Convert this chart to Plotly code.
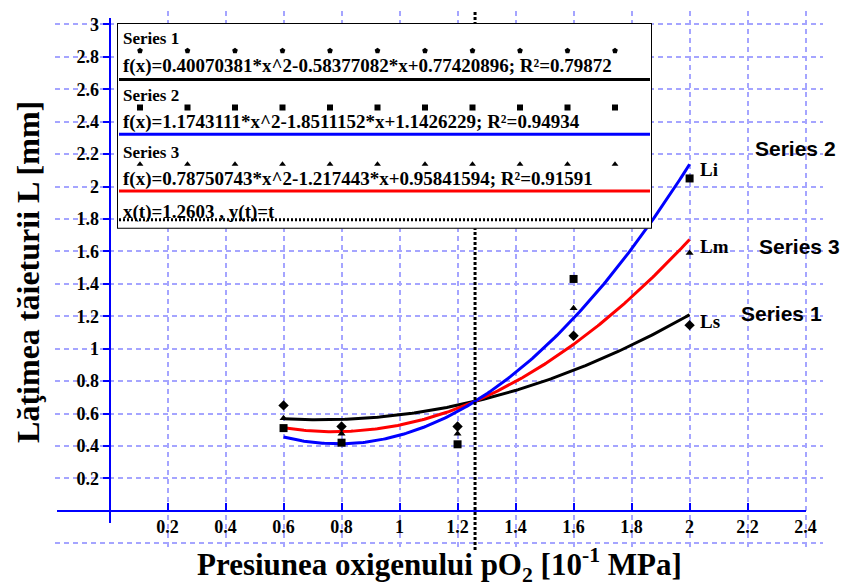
import numpy as np
import plotly.graph_objects as go

# Measured kerf width L [mm] vs. oxygen pressure pO2 [10^-1 MPa]
pressure = [0.6, 0.8, 1.2, 1.6, 2.0]
width_ls = [0.65, 0.52, 0.52, 1.08, 1.145]    # Series 1 (Ls)
width_li = [0.51, 0.42, 0.41, 1.43, 2.05]     # Series 2 (Li)
width_lm = [0.57, 0.475, 0.475, 1.25, 1.59]   # Series 3 (Lm)

# Quadratic regressions a*x^2 + b*x + c and their R^2
fit_s1 = [0.40070381, -0.58377082, 0.77420896]
fit_s2 = [1.1743111, -1.8511152, 1.1426229]
fit_s3 = [0.78750743, -1.217443, 0.95841594]
r2_values = [0.79872, 0.94934, 0.91591]
x_vertical = 1.2603

x_tick_vals = [0.2, 0.4, 0.6, 0.8, 1.0, 1.2, 1.4, 1.6, 1.8, 2.0, 2.2, 2.4]
x_tick_text = ["0.2", "0.4", "0.6", "0.8", "1", "1.2", "1.4", "1.6", "1.8", "2", "2.2", "2.4"]
y_tick_vals = [0.2, 0.4, 0.6, 0.8, 1.0, 1.2, 1.4, 1.6, 1.8, 2.0, 2.2, 2.4, 2.6, 2.8, 3.0]
y_tick_text = ["0.2", "0.4", "0.6", "0.8", "1", "1.2", "1.4", "1.6", "1.8", "2",
               "2.2", "2.4", "2.6", "2.8", "3"]
y_grid_vals = [-0.2] + y_tick_vals

X_RANGE = [-0.188, 2.460]
Y_RANGE = [-0.242, 3.083]
X_LINE = [-0.181, 2.402]   # extent of the drawn x axis line
Y_LINE = [-0.077, 3.04]    # extent of the drawn y axis line

SERIF = "Liberation Serif"
SANS = "Liberation Sans"
GRID = "rgb(165,165,255)"
AXIS_BLUE = "#0000ff"


def frac(v, rng):
    return (v - rng[0]) / (rng[1] - rng[0])


def poly(coef, x):
    return coef[0] * x ** 2 + coef[1] * x + coef[2]


def fit_label(coef, r2):
    return f"f(x)={coef[0]}*x^2{coef[1]:+}*x{coef[2]:+}; R²={r2}"


fig = go.Figure()

# fitted curves over the measured pressure interval
xs = np.linspace(pressure[0], pressure[-1], 200)
for coef, color in [(fit_s1, "black"), (fit_s3, "red"), (fit_s2, "blue")]:
    fig.add_trace(go.Scatter(x=xs, y=poly(coef, xs), mode="lines",
                             line=dict(color=color, width=3), showlegend=False,
                             hoverinfo="skip"))

# measured points
for vals, sym, size in [(width_ls, "diamond", 8), (width_li, "square", 8),
                        (width_lm, "triangle-up", 7)]:
    fig.add_trace(go.Scatter(x=pressure, y=vals, mode="markers",
                             marker=dict(symbol=sym, size=size, color="black"),
                             showlegend=False))

# vertical line x(t)=1.2603, y(t)=t
fig.add_trace(go.Scatter(x=[x_vertical, x_vertical], y=Y_RANGE, mode="lines",
                         line=dict(color="black", width=3, dash="3px,2px"),
                         showlegend=False, hoverinfo="skip"))

# axes drawn through the origin (line, ticks, labels)
fig.add_trace(go.Scatter(x=[None], y=[None], xaxis="x2", yaxis="y2", showlegend=False))

# legend panel
LW, LH = 535, 207
fig.add_trace(go.Scatter(x=[0, LW, LW, 0, 0], y=[0, 0, LH, LH, 0], xaxis="x3", yaxis="y3",
                         mode="lines", fill="toself", fillcolor="white",
                         line=dict(color="black", width=2), showlegend=False,
                         hoverinfo="skip"))
row_lines = [(57, "black", "solid"), (112, "blue", "solid"), (169, "red", "solid"),
             (198, "black", "2px,2px")]
for yy, col, dash in row_lines:
    fig.add_trace(go.Scatter(x=[2, LW - 2], y=[yy, yy], xaxis="x3", yaxis="y3",
                             mode="lines", line=dict(color=col, width=3, dash=dash),
                             showlegend=False, hoverinfo="skip"))
sample_x = [23 + 47.5 * k for k in range(11)]
for yy, sym, size in [(28, "pentagon", 6), (85, "square", 6), (142, "triangle-up", 6)]:
    fig.add_trace(go.Scatter(x=sample_x, y=[yy] * len(sample_x), xaxis="x3", yaxis="y3",
                             mode="markers", marker=dict(symbol=sym, size=size, color="black"),
                             showlegend=False, hoverinfo="skip"))

legend_texts = [
    (16, "Series 1", 17), (43, fit_label(fit_s1, r2_values[0]), 19),
    (73, "Series 2", 17), (100, fit_label(fit_s2, r2_values[1]), 19),
    (130, "Series 3", 17), (157, fit_label(fit_s3, r2_values[2]), 19),
    (190, f"x(t)={x_vertical} , y(t)=t", 19),
]
annotations = []
for yy, txt, sz in legend_texts:
    annotations.append(dict(x=4, y=yy, xref="x3", yref="y3", text=txt, showarrow=False,
                            xanchor="left", yanchor="middle",
                            font=dict(family=SERIF, size=sz, color="black", weight="bold")))

# curve end labels
for coef, txt, dy in [(fit_s2, "Li", 5), (fit_s3, "Lm", 7), (fit_s1, "Ls", 7)]:
    annotations.append(dict(x=pressure[-1], y=poly(coef, pressure[-1]), text=txt,
                            showarrow=False, xanchor="left", yanchor="middle",
                            xshift=8, yshift=-dy,
                            font=dict(family=SERIF, size=19, color="black", weight="bold")))

# series names on the right
for x, y, txt in [(2.219, 2.236, "Series 2"), (2.233, 1.629, "Series 3"),
                  (2.171, 1.218, "Series 1")]:
    annotations.append(dict(x=x, y=y, text=txt, showarrow=False, xanchor="left",
                            yanchor="middle",
                            font=dict(family=SANS, size=21, color="black", weight="bold")))

# axis titles
annotations.append(dict(x=-0.036, y=0.5166, xref="paper", yref="paper",
                        text="Lăţimea tăieturii L [mm]", textangle=-90, showarrow=False,
                        xanchor="center", yanchor="middle",
                        font=dict(family=SERIF, size=32, color="black", weight="bold")))
annotations.append(dict(x=0.501, y=-0.028, xref="paper", yref="paper",
                        text="Presiunea oxigenului pO<sub>2</sub> [10<sup>-1</sup> MPa]",
                        showarrow=False, xanchor="center", yanchor="middle",
                        font=dict(family=SERIF, size=31, color="black", weight="bold")))

tick_font = dict(family=SERIF, size=18, color="black", weight="bold")

x2_dom = [frac(X_LINE[0], X_RANGE), frac(X_LINE[1], X_RANGE)]
y2_dom = [frac(Y_LINE[0], Y_RANGE), frac(Y_LINE[1], Y_RANGE)]

fig.update_layout(
    width=845, height=586,
    margin=dict(l=55, r=22, t=8, b=36),
    paper_bgcolor="white", plot_bgcolor="rgba(0,0,0,0)",
    showlegend=False,
    xaxis=dict(range=X_RANGE, domain=[0, 1], tickvals=x_tick_vals, showticklabels=False,
               ticks="", showgrid=True, gridcolor=GRID, griddash="5px,4px", gridwidth=2,
               zeroline=False, showline=False, fixedrange=True),
    yaxis=dict(range=Y_RANGE, domain=[0, 1], tickvals=y_grid_vals, showticklabels=False,
               ticks="", showgrid=True, gridcolor=GRID, griddash="5px,4px", gridwidth=2,
               zeroline=False, showline=False, fixedrange=True),
    xaxis2=dict(range=X_LINE, domain=x2_dom, anchor="free",
                position=frac(0, Y_RANGE), tickvals=x_tick_vals, ticktext=x_tick_text,
                ticks="inside", ticklen=7, tickwidth=2, tickcolor=AXIS_BLUE,
                showline=True, linecolor=AXIS_BLUE, linewidth=2, showgrid=False,
                zeroline=False, tickfont=tick_font),
    yaxis2=dict(range=Y_LINE, domain=y2_dom, anchor="free",
                position=frac(0, X_RANGE), tickvals=y_tick_vals, ticktext=y_tick_text,
                ticks="outside", ticklen=6, tickwidth=2, tickcolor=AXIS_BLUE,
                showline=True, linecolor=AXIS_BLUE, linewidth=2, showgrid=False,
                zeroline=False, tickfont=tick_font),
    xaxis3=dict(range=[0, LW], domain=[frac(117, [55, 823]), frac(652, [55, 823])],
                anchor="y3", visible=False),
    yaxis3=dict(range=[LH, 0], domain=[frac(550 - 227, [0, 542]), frac(550 - 20, [0, 542])],
                anchor="x3", visible=False),
    annotations=annotations,
)

fig.write_html("out.html")
